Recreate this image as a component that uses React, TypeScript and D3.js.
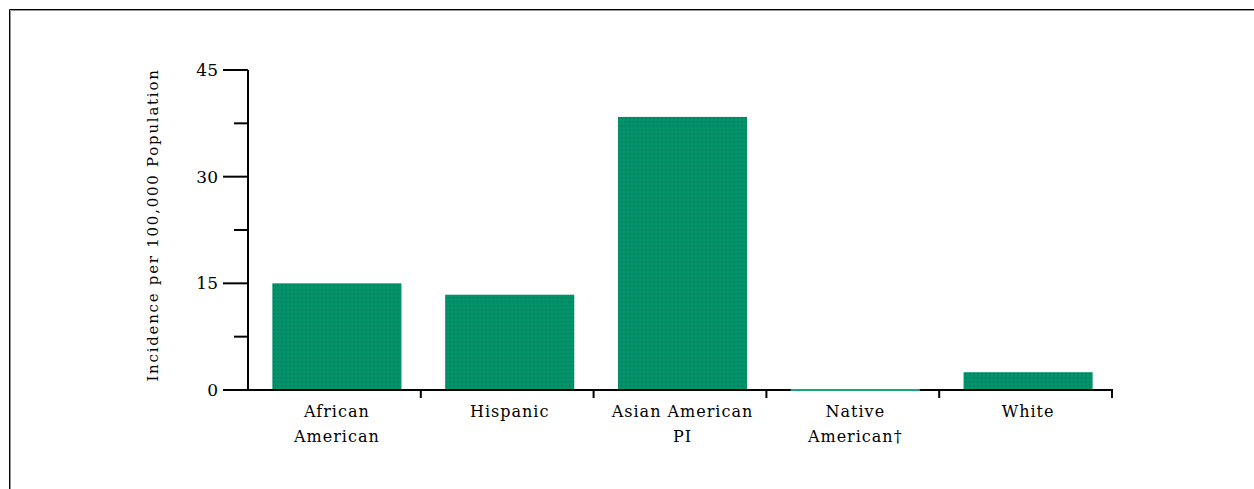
import React from "react";
import * as d3 from "d3";

const categories: string[][] = [
  ["African", "American"],
  ["Hispanic"],
  ["Asian American", "PI"],
  ["Native", "American†"],
  ["White"],
];
const values: number[] = [15.0, 13.4, 38.4, 0, 2.5];
const majorTicks: number[] = [0, 15, 30, 45];
const minorTicks: number[] = [7.5, 22.5, 37.5];

const W = 1254;
const H = 489;
const left = 248;
const right = 1112;
const top = 70;
const bottom = 390;
const barShift = 2.5;
const font = "'DejaVu Serif', serif";

export default function App() {
  const keys = categories.map((c) => c.join(" "));
  const x = d3
    .scaleBand<string>()
    .domain(keys)
    .range([left, right])
    .paddingInner(0.253)
    .paddingOuter(0.1265);
  const y = d3.scaleLinear().domain([0, 45]).range([bottom, top]);
  const step = x.step();

  return (
    <svg
      width={W}
      height={H}
      style={{ position: "absolute", left: 0, top: 0, background: "#fff" }}
    >
      <defs>
        <pattern id="dots" width={4} height={4} patternUnits="userSpaceOnUse">
          <rect width={4} height={4} fill="#009468" />
          <rect x={1} y={1} width={1.5} height={1.5} fill="#22607a" />
        </pattern>
      </defs>
      {/* frame */}
      <line x1={9.5} y1={9.5} x2={W} y2={9.5} stroke="#000" />
      <line x1={9.5} y1={9.5} x2={9.5} y2={H} stroke="#000" />
      <line x1={10.5} y1={10.5} x2={W} y2={10.5} stroke="#999" />
      <line x1={10.5} y1={10.5} x2={10.5} y2={H} stroke="#999" />

      {/* bars */}
      {values.map((v, i) => {
        const k = keys[i];
        if (v === 0) return null;
        return (
          <rect
            key={k}
            x={x(k)! + barShift}
            y={y(v)}
            width={x.bandwidth()}
            height={bottom - y(v)}
            fill="url(#dots)"
          />
        );
      })}

      {/* y axis */}
      <line x1={left} x2={left} y1={top} y2={bottom + 1} stroke="#000" strokeWidth={2} />
      {majorTicks.map((t) => (
        <g key={t}>
          <line x1={left - 25} x2={left} y1={y(t)} y2={y(t)} stroke="#000" strokeWidth={2} />
          <text
            x={218}
            y={y(t)}
            textAnchor="end"
            dominantBaseline="central"
            fontFamily={font}
            fontSize={17}
            fill="#000"
          >
            {t}
          </text>
        </g>
      ))}
      {minorTicks.map((t) => (
        <line key={t} x1={left - 14} x2={left} y1={y(t)} y2={y(t)} stroke="#000" strokeWidth={2} />
      ))}
      <text
        transform={`translate(158, 225) rotate(-90)`}
        textAnchor="middle"
        fontFamily={font}
        fontSize={15}
        letterSpacing={1.75}
        fill="#000"
      >
        Incidence per 100,000 Population
      </text>

      {/* x axis */}
      <line x1={left - 1} x2={right + 1} y1={bottom} y2={bottom} stroke="#000" strokeWidth={2} />
      {keys.map((k) => {
        const bx = x(k)! - (step - x.bandwidth()) / 2 + step;
        return <line key={k} x1={bx} x2={bx} y1={bottom} y2={bottom + 8} stroke="#000" strokeWidth={2} />;
      })}
      {/* zero-height bars drawn as a green line on the baseline */}
      {values.map((v, i) =>
        v === 0 ? (
          <line
            key={keys[i]}
            x1={x(keys[i])! + barShift}
            x2={x(keys[i])! + barShift + x.bandwidth()}
            y1={bottom}
            y2={bottom}
            stroke="#1aa872"
            strokeWidth={2}
          />
        ) : null
      )}
      {categories.map((lines, i) => {
        const cx = x(keys[i])! + x.bandwidth() / 2 + barShift;
        return (
          <text
            key={keys[i]}
            textAnchor="middle"
            fontFamily={font}
            fontSize={16}
            letterSpacing={1}
            fill="#000"
          >
            {lines.map((l, j) => (
              <tspan key={j} x={cx} y={417 + j * 25}>
                {l}
              </tspan>
            ))}
          </text>
        );
      })}
    </svg>
  );
}
